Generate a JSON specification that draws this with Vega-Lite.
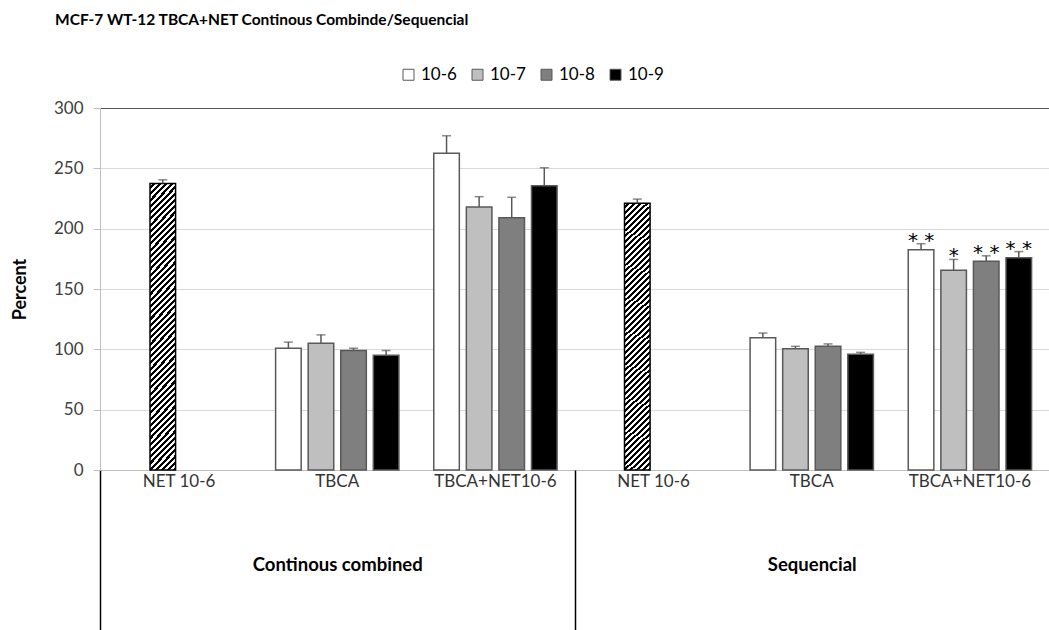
{
  "$schema": "https://vega.github.io/schema/vega-lite/v6.json",
  "width": 949,
  "height": 362,
  "autosize": {"type": "none"},
  "padding": {"left": 100, "top": 108, "right": 0, "bottom": 160},
  "background": "white",
  "config": {"font": "Lato", "view": {"stroke": null}},
  "title": {"text": "MCF-7 WT-12 TBCA+NET Continous Combinde/Sequencial", "anchor": "start", "frame": "group", "font": "Lato", "fontSize": 15.5, "fontWeight": "bold", "color": "#000", "dx": -45, "dy": -34},
  "data": {"values": [
    {"group": "Continous combined", "cat": "NET 10-6", "pos": "Continous combined|NET 10-6", "series": "10-7", "value": 237.5, "upper": 240.5, "sig": ""},
    {"group": "Continous combined", "cat": "TBCA", "pos": "Continous combined|TBCA", "series": "10-6", "value": 101, "upper": 106, "sig": ""},
    {"group": "Continous combined", "cat": "TBCA", "pos": "Continous combined|TBCA", "series": "10-7", "value": 105, "upper": 112, "sig": ""},
    {"group": "Continous combined", "cat": "TBCA", "pos": "Continous combined|TBCA", "series": "10-8", "value": 99, "upper": 101, "sig": ""},
    {"group": "Continous combined", "cat": "TBCA", "pos": "Continous combined|TBCA", "series": "10-9", "value": 95, "upper": 99, "sig": ""},
    {"group": "Continous combined", "cat": "TBCA+NET10-6", "pos": "Continous combined|TBCA+NET10-6", "series": "10-6", "value": 262.5, "upper": 277, "sig": ""},
    {"group": "Continous combined", "cat": "TBCA+NET10-6", "pos": "Continous combined|TBCA+NET10-6", "series": "10-7", "value": 218, "upper": 226.5, "sig": ""},
    {"group": "Continous combined", "cat": "TBCA+NET10-6", "pos": "Continous combined|TBCA+NET10-6", "series": "10-8", "value": 209, "upper": 226, "sig": ""},
    {"group": "Continous combined", "cat": "TBCA+NET10-6", "pos": "Continous combined|TBCA+NET10-6", "series": "10-9", "value": 235.5, "upper": 250.5, "sig": ""},
    {"group": "Sequencial", "cat": "NET 10-6", "pos": "Sequencial|NET 10-6", "series": "10-7", "value": 221, "upper": 224.5, "sig": ""},
    {"group": "Sequencial", "cat": "TBCA", "pos": "Sequencial|TBCA", "series": "10-6", "value": 109.5, "upper": 113.5, "sig": ""},
    {"group": "Sequencial", "cat": "TBCA", "pos": "Sequencial|TBCA", "series": "10-7", "value": 100.5, "upper": 102.5, "sig": ""},
    {"group": "Sequencial", "cat": "TBCA", "pos": "Sequencial|TBCA", "series": "10-8", "value": 102.5, "upper": 104.5, "sig": ""},
    {"group": "Sequencial", "cat": "TBCA", "pos": "Sequencial|TBCA", "series": "10-9", "value": 96, "upper": 97.5, "sig": ""},
    {"group": "Sequencial", "cat": "TBCA+NET10-6", "pos": "Sequencial|TBCA+NET10-6", "series": "10-6", "value": 182.5, "upper": 187.5, "sig": "**"},
    {"group": "Sequencial", "cat": "TBCA+NET10-6", "pos": "Sequencial|TBCA+NET10-6", "series": "10-7", "value": 165.5, "upper": 174.5, "sig": "*"},
    {"group": "Sequencial", "cat": "TBCA+NET10-6", "pos": "Sequencial|TBCA+NET10-6", "series": "10-8", "value": 173, "upper": 177.5, "sig": "**"},
    {"group": "Sequencial", "cat": "TBCA+NET10-6", "pos": "Sequencial|TBCA+NET10-6", "series": "10-9", "value": 176, "upper": 181, "sig": "**"}
  ]},
  "layer": [
    {
      "layer": [
        {
          "transform": [{"filter": "datum.cat !== 'NET 10-6'"}],
          "mark": {"type": "bar", "stroke": "#595959", "strokeWidth": 1.5},
          "encoding": {
            "x": {"field": "pos", "type": "nominal",
              "scale": {"domain": ["Continous combined|NET 10-6", "Continous combined|TBCA", "Continous combined|TBCA+NET10-6", "Sequencial|NET 10-6", "Sequencial|TBCA", "Sequencial|TBCA+NET10-6"], "paddingInner": 0, "paddingOuter": 0},
              "axis": {"orient": "bottom", "title": null, "labelExpr": "split(datum.value, '|')[1]", "labelAngle": 0, "ticks": false, "domainColor": "#bfbfbf", "domainWidth": 1, "labelFont": "Lato", "labelFontSize": 17, "labelColor": "#333333", "labelPadding": 3}},
            "xOffset": {"field": "series", "type": "nominal", "scale": {"domain": ["10-6", "10-7", "10-8", "10-9"], "paddingInner": 0.215, "paddingOuter": 0.535}},
            "y": {"field": "value", "type": "quantitative",
              "scale": {"domain": [0, 300]},
              "axis": {"values": [0, 50, 100, 150, 200, 250, 300], "grid": true, "gridColor": {"condition": {"test": "datum.value === 300", "value": "#595959"}, "value": "#d9d9d9"}, "gridWidth": 1, "domainColor": "#bfbfbf", "tickColor": "#bfbfbf", "tickSize": 7, "labelPadding": 10, "labelFont": "Lato", "labelFontSize": 17, "labelColor": "#404040", "title": "Percent", "titleFont": "Lato", "titleFontSize": 18, "titleFontWeight": "bold", "titleColor": "#000", "titleX": -71}},
            "fill": {"field": "series", "type": "nominal",
              "scale": {"domain": ["10-6", "10-7", "10-8", "10-9"], "range": ["#ffffff", "#bfbfbf", "#7f7f7f", "#000000"]},
              "legend": {"title": null, "orient": "none", "direction": "horizontal", "legendX": 300, "legendY": -42, "symbolType": "square", "symbolSize": 121, "symbolStrokeColor": "#595959", "symbolStrokeWidth": 1, "labelFont": "Lato", "labelFontSize": 17, "labelColor": "#000", "labelOffset": 4, "columnPadding": 12}}
          }
        },
        {
          "transform": [{"filter": "datum.cat === 'NET 10-6'"}],
          "mark": {"type": "bar", "stroke": "#000", "strokeWidth": 1.5,
            "fill": {"gradient": "linear", "x1": 0, "y1": 0, "x2": 0.0997, "y2": 1.083, "stops": [
              {"offset": 0, "color": "#fff"}, {"offset": 0.01, "color": "#fff"}, {"offset": 0.01, "color": "#000"}, {"offset": 0.02, "color": "#000"},
              {"offset": 0.02, "color": "#fff"}, {"offset": 0.03, "color": "#fff"}, {"offset": 0.03, "color": "#000"}, {"offset": 0.04, "color": "#000"},
              {"offset": 0.04, "color": "#fff"}, {"offset": 0.05, "color": "#fff"}, {"offset": 0.05, "color": "#000"}, {"offset": 0.06, "color": "#000"},
              {"offset": 0.06, "color": "#fff"}, {"offset": 0.07, "color": "#fff"}, {"offset": 0.07, "color": "#000"}, {"offset": 0.08, "color": "#000"},
              {"offset": 0.08, "color": "#fff"}, {"offset": 0.09, "color": "#fff"}, {"offset": 0.09, "color": "#000"}, {"offset": 0.1, "color": "#000"},
              {"offset": 0.1, "color": "#fff"}, {"offset": 0.11, "color": "#fff"}, {"offset": 0.11, "color": "#000"}, {"offset": 0.12, "color": "#000"},
              {"offset": 0.12, "color": "#fff"}, {"offset": 0.13, "color": "#fff"}, {"offset": 0.13, "color": "#000"}, {"offset": 0.14, "color": "#000"},
              {"offset": 0.14, "color": "#fff"}, {"offset": 0.15, "color": "#fff"}, {"offset": 0.15, "color": "#000"}, {"offset": 0.16, "color": "#000"},
              {"offset": 0.16, "color": "#fff"}, {"offset": 0.17, "color": "#fff"}, {"offset": 0.17, "color": "#000"}, {"offset": 0.18, "color": "#000"},
              {"offset": 0.18, "color": "#fff"}, {"offset": 0.19, "color": "#fff"}, {"offset": 0.19, "color": "#000"}, {"offset": 0.2, "color": "#000"},
              {"offset": 0.2, "color": "#fff"}, {"offset": 0.21, "color": "#fff"}, {"offset": 0.21, "color": "#000"}, {"offset": 0.22, "color": "#000"},
              {"offset": 0.22, "color": "#fff"}, {"offset": 0.23, "color": "#fff"}, {"offset": 0.23, "color": "#000"}, {"offset": 0.24, "color": "#000"},
              {"offset": 0.24, "color": "#fff"}, {"offset": 0.25, "color": "#fff"}, {"offset": 0.25, "color": "#000"}, {"offset": 0.26, "color": "#000"},
              {"offset": 0.26, "color": "#fff"}, {"offset": 0.27, "color": "#fff"}, {"offset": 0.27, "color": "#000"}, {"offset": 0.28, "color": "#000"},
              {"offset": 0.28, "color": "#fff"}, {"offset": 0.29, "color": "#fff"}, {"offset": 0.29, "color": "#000"}, {"offset": 0.3, "color": "#000"},
              {"offset": 0.3, "color": "#fff"}, {"offset": 0.31, "color": "#fff"}, {"offset": 0.31, "color": "#000"}, {"offset": 0.32, "color": "#000"},
              {"offset": 0.32, "color": "#fff"}, {"offset": 0.33, "color": "#fff"}, {"offset": 0.33, "color": "#000"}, {"offset": 0.34, "color": "#000"},
              {"offset": 0.34, "color": "#fff"}, {"offset": 0.35, "color": "#fff"}, {"offset": 0.35, "color": "#000"}, {"offset": 0.36, "color": "#000"},
              {"offset": 0.36, "color": "#fff"}, {"offset": 0.37, "color": "#fff"}, {"offset": 0.37, "color": "#000"}, {"offset": 0.38, "color": "#000"},
              {"offset": 0.38, "color": "#fff"}, {"offset": 0.39, "color": "#fff"}, {"offset": 0.39, "color": "#000"}, {"offset": 0.4, "color": "#000"},
              {"offset": 0.4, "color": "#fff"}, {"offset": 0.41, "color": "#fff"}, {"offset": 0.41, "color": "#000"}, {"offset": 0.42, "color": "#000"},
              {"offset": 0.42, "color": "#fff"}, {"offset": 0.43, "color": "#fff"}, {"offset": 0.43, "color": "#000"}, {"offset": 0.44, "color": "#000"},
              {"offset": 0.44, "color": "#fff"}, {"offset": 0.45, "color": "#fff"}, {"offset": 0.45, "color": "#000"}, {"offset": 0.46, "color": "#000"},
              {"offset": 0.46, "color": "#fff"}, {"offset": 0.47, "color": "#fff"}, {"offset": 0.47, "color": "#000"}, {"offset": 0.48, "color": "#000"},
              {"offset": 0.48, "color": "#fff"}, {"offset": 0.49, "color": "#fff"}, {"offset": 0.49, "color": "#000"}, {"offset": 0.5, "color": "#000"},
              {"offset": 0.5, "color": "#fff"}, {"offset": 0.51, "color": "#fff"}, {"offset": 0.51, "color": "#000"}, {"offset": 0.52, "color": "#000"},
              {"offset": 0.52, "color": "#fff"}, {"offset": 0.53, "color": "#fff"}, {"offset": 0.53, "color": "#000"}, {"offset": 0.54, "color": "#000"},
              {"offset": 0.54, "color": "#fff"}, {"offset": 0.55, "color": "#fff"}, {"offset": 0.55, "color": "#000"}, {"offset": 0.56, "color": "#000"},
              {"offset": 0.56, "color": "#fff"}, {"offset": 0.57, "color": "#fff"}, {"offset": 0.57, "color": "#000"}, {"offset": 0.58, "color": "#000"},
              {"offset": 0.58, "color": "#fff"}, {"offset": 0.59, "color": "#fff"}, {"offset": 0.59, "color": "#000"}, {"offset": 0.6, "color": "#000"},
              {"offset": 0.6, "color": "#fff"}, {"offset": 0.61, "color": "#fff"}, {"offset": 0.61, "color": "#000"}, {"offset": 0.62, "color": "#000"},
              {"offset": 0.62, "color": "#fff"}, {"offset": 0.63, "color": "#fff"}, {"offset": 0.63, "color": "#000"}, {"offset": 0.64, "color": "#000"},
              {"offset": 0.64, "color": "#fff"}, {"offset": 0.65, "color": "#fff"}, {"offset": 0.65, "color": "#000"}, {"offset": 0.66, "color": "#000"},
              {"offset": 0.66, "color": "#fff"}, {"offset": 0.67, "color": "#fff"}, {"offset": 0.67, "color": "#000"}, {"offset": 0.68, "color": "#000"},
              {"offset": 0.68, "color": "#fff"}, {"offset": 0.69, "color": "#fff"}, {"offset": 0.69, "color": "#000"}, {"offset": 0.7, "color": "#000"},
              {"offset": 0.7, "color": "#fff"}, {"offset": 0.71, "color": "#fff"}, {"offset": 0.71, "color": "#000"}, {"offset": 0.72, "color": "#000"},
              {"offset": 0.72, "color": "#fff"}, {"offset": 0.73, "color": "#fff"}, {"offset": 0.73, "color": "#000"}, {"offset": 0.74, "color": "#000"},
              {"offset": 0.74, "color": "#fff"}, {"offset": 0.75, "color": "#fff"}, {"offset": 0.75, "color": "#000"}, {"offset": 0.76, "color": "#000"},
              {"offset": 0.76, "color": "#fff"}, {"offset": 0.77, "color": "#fff"}, {"offset": 0.77, "color": "#000"}, {"offset": 0.78, "color": "#000"},
              {"offset": 0.78, "color": "#fff"}, {"offset": 0.79, "color": "#fff"}, {"offset": 0.79, "color": "#000"}, {"offset": 0.8, "color": "#000"},
              {"offset": 0.8, "color": "#fff"}, {"offset": 0.81, "color": "#fff"}, {"offset": 0.81, "color": "#000"}, {"offset": 0.82, "color": "#000"},
              {"offset": 0.82, "color": "#fff"}, {"offset": 0.83, "color": "#fff"}, {"offset": 0.83, "color": "#000"}, {"offset": 0.84, "color": "#000"},
              {"offset": 0.84, "color": "#fff"}, {"offset": 0.85, "color": "#fff"}, {"offset": 0.85, "color": "#000"}, {"offset": 0.86, "color": "#000"},
              {"offset": 0.86, "color": "#fff"}, {"offset": 0.87, "color": "#fff"}, {"offset": 0.87, "color": "#000"}, {"offset": 0.88, "color": "#000"},
              {"offset": 0.88, "color": "#fff"}, {"offset": 0.89, "color": "#fff"}, {"offset": 0.89, "color": "#000"}, {"offset": 0.9, "color": "#000"},
              {"offset": 0.9, "color": "#fff"}, {"offset": 0.91, "color": "#fff"}, {"offset": 0.91, "color": "#000"}, {"offset": 0.92, "color": "#000"},
              {"offset": 0.92, "color": "#fff"}, {"offset": 0.93, "color": "#fff"}, {"offset": 0.93, "color": "#000"}, {"offset": 0.94, "color": "#000"},
              {"offset": 0.94, "color": "#fff"}, {"offset": 0.95, "color": "#fff"}, {"offset": 0.95, "color": "#000"}, {"offset": 0.96, "color": "#000"},
              {"offset": 0.96, "color": "#fff"}, {"offset": 0.97, "color": "#fff"}, {"offset": 0.97, "color": "#000"}, {"offset": 0.98, "color": "#000"},
              {"offset": 0.98, "color": "#fff"}, {"offset": 0.99, "color": "#fff"}, {"offset": 0.99, "color": "#000"}, {"offset": 1, "color": "#000"}
            ]}},
          "encoding": {
            "x": {"field": "pos", "type": "nominal"},
            "xOffset": {"field": "series", "type": "nominal"},
            "y": {"field": "value", "type": "quantitative"}
          }
        },
        {
          "mark": {"type": "rule", "color": "#595959", "strokeWidth": 1.5},
          "encoding": {
            "x": {"field": "pos", "type": "nominal"},
            "xOffset": {"field": "series", "type": "nominal"},
            "y": {"field": "value", "type": "quantitative"},
            "y2": {"field": "upper"}
          }
        },
        {
          "mark": {"type": "tick", "color": "#595959", "thickness": 1.5, "size": 9, "orient": "horizontal"},
          "encoding": {
            "x": {"field": "pos", "type": "nominal"},
            "xOffset": {"field": "series", "type": "nominal"},
            "y": {"field": "upper", "type": "quantitative"}
          }
        },
        {
          "transform": [{"filter": "datum.sig !== ''"}, {"calculate": "replace(datum.sig, '**', '* *')", "as": "sigLabel"}],
          "mark": {"type": "text", "font": "DejaVu Sans", "fontSize": 20, "baseline": "alphabetic", "dy": 3, "color": "#000"},
          "encoding": {
            "x": {"field": "pos", "type": "nominal"},
            "xOffset": {"field": "series", "type": "nominal"},
            "y": {"field": "upper", "type": "quantitative"},
            "text": {"field": "sigLabel"}
          }
        }
      ]
    },
    {
      "mark": {"type": "point", "opacity": 0},
      "encoding": {
        "x": {"field": "group", "type": "nominal",
          "scale": {"type": "band", "domain": ["Continous combined", "Sequencial"], "paddingInner": 0, "paddingOuter": 0},
          "axis": {"orient": "bottom", "title": null, "labelAngle": 0, "domain": false, "tickBand": "extent", "tickSize": 160, "tickWidth": 1.5,
            "tickColor": {"condition": {"test": "datum.value !== 'Sequencial'", "value": "#000"}, "value": "rgba(0,0,0,0)"},
            "labelPadding": -75, "labelFont": "Lato", "labelFontSize": 18.5, "labelFontWeight": "bold", "labelColor": "#000"}}
      }
    }
  ],
  "resolve": {"scale": {"x": "independent"}, "axis": {"x": "independent"}}
}
